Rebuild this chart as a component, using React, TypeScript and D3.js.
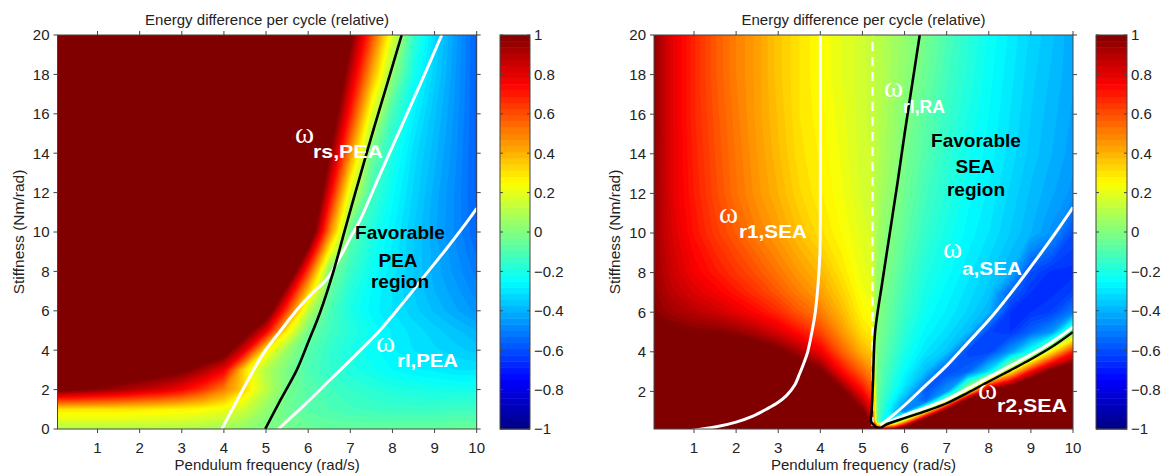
import React, { useMemo } from "react"
import * as d3 from "d3"

// ---------- values ----------
// left panel: PEA vs rigid actuator, rows go from stiffness 0 upward
const leftFreq = [0, 0.5, 1, 1.5, 2, 2.5, 3, 3.5, 4, 4.5, 5, 5.5, 6, 6.5, 7, 7.5, 8, 8.5, 9, 9.5, 10]
const leftStiff = [0, 1, 2, 3, 4, 5, 6, 7, 8, 9, 10, 12, 14, 16, 18, 20]
const leftEnergy = [
    [0.1, 0.1, 0.1, 0.1, 0.1, 0.1, 0.09, 0.08, 0.06, 0.03, 0.0, -0.02, -0.04, -0.05, -0.05, -0.05, -0.05, -0.05, -0.05, -0.04, -0.04],
    [0.3, 0.3, 0.3, 0.3, 0.29, 0.28, 0.27, 0.25, 0.22, 0.15, 0.04, -0.04, -0.08, -0.1, -0.12, -0.13, -0.14, -0.14, -0.14, -0.13, -0.13],
    [1.05, 1.01, 0.97, 0.93, 0.88, 0.83, 0.76, 0.65, 0.5, 0.32, 0.12, -0.02, -0.08, -0.12, -0.15, -0.17, -0.19, -0.2, -0.21, -0.21, -0.21],
    [1.3, 1.25, 1.2, 1.15, 1.12, 1.08, 1.03, 0.92, 0.78, 0.3, 0.1, -0.01, -0.1, -0.15, -0.19, -0.22, -0.25, -0.27, -0.28, -0.3, -0.3],
    [1.5, 1.5, 1.5, 1.45, 1.4, 1.35, 1.3, 1.2, 1.1, 0.8, 0.28, 0.05, -0.08, -0.15, -0.2, -0.24, -0.27, -0.3, -0.32, -0.34, -0.36],
    [1.5, 1.5, 1.5, 1.5, 1.5, 1.5, 1.5, 1.5, 1.5, 1.1, 0.8, 0.28, -0.02, -0.12, -0.18, -0.23, -0.28, -0.31, -0.34, -0.37, -0.4],
    [1.5, 1.5, 1.5, 1.5, 1.5, 1.5, 1.5, 1.5, 1.5, 1.5, 1.15, 0.62, 0.12, -0.1, -0.2, -0.26, -0.3, -0.34, -0.38, -0.42, -0.46],
    [1.5, 1.5, 1.5, 1.5, 1.5, 1.5, 1.5, 1.5, 1.5, 1.5, 1.45, 0.91, 0.36, -0.05, -0.18, -0.25, -0.3, -0.35, -0.4, -0.44, -0.49],
    [1.5, 1.5, 1.5, 1.5, 1.5, 1.5, 1.5, 1.5, 1.5, 1.5, 1.5, 1.25, 0.63, 0.0, -0.14, -0.23, -0.29, -0.35, -0.41, -0.46, -0.51],
    [1.5, 1.5, 1.5, 1.5, 1.5, 1.5, 1.5, 1.5, 1.5, 1.5, 1.5, 1.5, 0.93, 0.25, -0.1, -0.21, -0.28, -0.35, -0.41, -0.47, -0.53],
    [1.5, 1.5, 1.5, 1.5, 1.5, 1.5, 1.5, 1.5, 1.5, 1.5, 1.5, 1.5, 1.23, 0.51, -0.06, -0.19, -0.27, -0.35, -0.42, -0.48, -0.55],
    [1.5, 1.5, 1.5, 1.5, 1.5, 1.5, 1.5, 1.5, 1.5, 1.5, 1.5, 1.5, 1.42, 0.8, 0.19, -0.12, -0.24, -0.33, -0.41, -0.48, -0.56],
    [1.5, 1.5, 1.5, 1.5, 1.5, 1.5, 1.5, 1.5, 1.5, 1.5, 1.5, 1.5, 1.5, 1.02, 0.47, -0.02, -0.2, -0.31, -0.39, -0.47, -0.56],
    [1.5, 1.5, 1.5, 1.5, 1.5, 1.5, 1.5, 1.5, 1.5, 1.5, 1.5, 1.5, 1.5, 1.2, 0.7, 0.2, -0.12, -0.27, -0.37, -0.46, -0.56],
    [1.5, 1.5, 1.5, 1.5, 1.5, 1.5, 1.5, 1.5, 1.5, 1.5, 1.5, 1.5, 1.5, 1.34, 0.88, 0.43, 0.03, -0.21, -0.34, -0.45, -0.56],
    [1.5, 1.5, 1.5, 1.5, 1.5, 1.5, 1.5, 1.5, 1.5, 1.5, 1.5, 1.5, 1.5, 1.47, 1.04, 0.62, 0.19, -0.15, -0.32, -0.44, -0.56],
]

// right panel: SEA vs rigid actuator
const rightFreq = [0, 0.25, 0.5, 1, 1.5, 2, 2.5, 3, 3.5, 4, 4.5, 5, 5.2, 5.35, 5.5, 5.75, 6, 6.5, 7, 7.5, 8, 8.5, 9, 9.5, 10]
const rightStiff = [0, 0.5, 1, 1.5, 2, 3, 4, 5, 6, 7, 8, 10, 12, 14, 16, 18, 20]
const rightEnergy = [
    [1.5, 1.5, 1.5, 1.5, 1.5, 1.5, 1.5, 1.5, 1.5, 1.5, 1.5, 1.3, 1.2, 1.0, 1.1, 1.3, 1.5, 1.5, 1.5, 1.5, 1.5, 1.5, 1.5, 1.5, 1.5],
    [1.5, 1.5, 1.5, 1.5, 1.5, 1.5, 1.5, 1.5, 1.5, 1.5, 1.4, 1.15, 0.95, -0.05, -0.25, -0.25, 0.3, 1.3, 1.5, 1.5, 1.5, 1.5, 1.5, 1.5, 1.5],
    [1.5, 1.5, 1.5, 1.5, 1.5, 1.5, 1.5, 1.5, 1.5, 1.5, 1.3, 1.02, 0.82, -0.06, -0.18, -0.35, -0.5, 0.2, 1.2, 1.5, 1.5, 1.5, 1.5, 1.5, 1.5],
    [1.5, 1.5, 1.5, 1.5, 1.5, 1.5, 1.5, 1.5, 1.5, 1.4, 1.15, 0.88, 0.72, -0.05, -0.15, -0.28, -0.42, -0.55, 0.15, 1.25, 1.5, 1.5, 1.5, 1.5, 1.5],
    [1.5, 1.5, 1.5, 1.5, 1.5, 1.5, 1.5, 1.5, 1.5, 1.3, 1.04, 0.75, 0.62, -0.04, -0.12, -0.22, -0.32, -0.58, -0.45, 0.2, 1.1, 1.3, 1.5, 1.5, 1.5],
    [1.5, 1.5, 1.5, 1.5, 1.5, 1.5, 1.4, 1.3, 1.12, 1.03, 0.75, 0.55, 0.48, -0.03, -0.09, -0.17, -0.25, -0.38, -0.6, -0.55, -0.3, 0.25, 0.75, 1.1, 1.2],
    [1.4, 1.38, 1.35, 1.25, 1.22, 1.18, 1.12, 1.04, 0.92, 0.78, 0.57, 0.4, 0.36, -0.01, -0.06, -0.13, -0.2, -0.3, -0.36, -0.62, -0.62, -0.45, -0.2, 0.3, 0.7],
    [1.08, 1.05, 1.03, 1.0, 0.99, 0.96, 0.9, 0.82, 0.72, 0.62, 0.46, 0.31, 0.28, 0.0, -0.04, -0.1, -0.17, -0.26, -0.31, -0.38, -0.62, -0.65, -0.55, -0.45, 0.0],
    [1.0, 0.96, 0.93, 0.89, 0.85, 0.8, 0.74, 0.67, 0.58, 0.51, 0.39, 0.26, 0.24, 0.02, -0.02, -0.08, -0.14, -0.23, -0.28, -0.33, -0.4, -0.65, -0.65, -0.62, -0.5],
    [0.98, 0.92, 0.88, 0.82, 0.77, 0.71, 0.65, 0.58, 0.5, 0.44, 0.34, 0.23, 0.21, 0.04, -0.01, -0.06, -0.12, -0.21, -0.26, -0.31, -0.36, -0.55, -0.65, -0.66, -0.62],
    [0.97, 0.9, 0.85, 0.77, 0.71, 0.65, 0.59, 0.52, 0.45, 0.39, 0.3, 0.21, 0.19, 0.05, 0.01, -0.04, -0.1, -0.19, -0.24, -0.29, -0.34, -0.4, -0.6, -0.66, -0.66],
    [0.97, 0.88, 0.82, 0.72, 0.64, 0.57, 0.5, 0.44, 0.37, 0.31, 0.25, 0.19, 0.17, 0.08, 0.03, -0.01, -0.06, -0.15, -0.21, -0.26, -0.3, -0.35, -0.4, -0.46, -0.6],
    [0.98, 0.88, 0.8, 0.7, 0.61, 0.53, 0.46, 0.4, 0.33, 0.28, 0.23, 0.17, 0.15, 0.1, 0.06, 0.02, -0.03, -0.12, -0.18, -0.24, -0.28, -0.33, -0.38, -0.42, -0.46],
    [0.99, 0.88, 0.8, 0.69, 0.6, 0.52, 0.45, 0.38, 0.31, 0.27, 0.22, 0.16, 0.15, 0.11, 0.08, 0.04, -0.01, -0.09, -0.16, -0.22, -0.26, -0.31, -0.36, -0.4, -0.44],
    [1.0, 0.88, 0.8, 0.68, 0.59, 0.51, 0.44, 0.37, 0.3, 0.26, 0.21, 0.16, 0.14, 0.12, 0.09, 0.05, 0.01, -0.07, -0.14, -0.2, -0.25, -0.3, -0.35, -0.39, -0.43],
    [1.0, 0.88, 0.8, 0.68, 0.58, 0.5, 0.44, 0.36, 0.3, 0.25, 0.2, 0.16, 0.14, 0.12, 0.1, 0.06, 0.03, -0.04, -0.12, -0.18, -0.24, -0.29, -0.34, -0.38, -0.42],
    [1.0, 0.88, 0.8, 0.68, 0.58, 0.5, 0.44, 0.36, 0.3, 0.25, 0.2, 0.16, 0.13, 0.12, 0.1, 0.07, 0.04, -0.02, -0.1, -0.17, -0.23, -0.28, -0.33, -0.37, -0.42],
]

// boundary curves [frequency, stiffness]
const leftOmegaRsBlack = [[4.98, 0], [5.35, 1.5], [5.73, 3], [6.0, 4.4], [6.28, 5.9], [6.6, 8], [6.87, 10.1], [7.2, 12.6], [7.55, 15.2], [7.9, 17.7], [8.22, 20]]
const leftOmegaRsWhite = [[3.95, 0], [4.15, 0.8], [4.5, 2.2], [4.94, 3.84], [5.35, 5.0], [5.73, 6.04], [6.1, 6.9], [6.44, 7.6], [6.75, 8.7], [7.0, 9.7], [7.23, 10.6], [7.7, 12.9], [8.18, 15.2], [8.68, 17.6], [9.17, 20]]
const leftOmegaRl = [[5.29, 0], [5.9, 1.2], [6.52, 2.5], [7.1, 3.7], [7.7, 5.0], [8.25, 6.4], [8.81, 7.9], [9.3, 9.2], [9.8, 10.6], [10, 11.2]]

const rightOmegaR1 = [[0.85, 0], [1.5, 0.2], [2.0, 0.45], [2.4, 0.75], [2.72, 1.1], [3.0, 1.45], [3.2, 1.8], [3.4, 2.35], [3.5, 2.85], [3.62, 3.5], [3.7, 4.0], [3.8, 5.0], [3.88, 6.0], [3.95, 7.5], [3.99, 9], [4.0, 12], [4.0, 20]]
const rightResonance = [[5.24, 0.25], [5.24, 20]]
const rightOmegaRA = [[5.44, 0.15], [5.33, 0.2], [5.21, 0.46], [5.22, 1], [5.25, 2.5], [5.3, 5], [5.47, 7.5], [5.65, 10], [5.83, 12.5], [6.0, 15], [6.18, 17.5], [6.36, 20]]
const rightOmegaA = [[5.42, 0.3], [5.7, 0.75], [6.0, 1.3], [6.5, 2.3], [7.0, 3.3], [7.5, 4.45], [8.0, 5.6], [8.5, 6.9], [9.0, 8.3], [9.5, 9.75], [10, 11.3]]
const rightOmegaR2Edge = [[5.6, 0.42], [6.0, 0.8], [6.5, 1.18], [7.0, 1.6], [7.5, 2.14], [8.0, 2.72], [8.5, 3.28], [9.0, 3.86], [9.5, 4.5], [10, 5.26]]
const rightOmegaR2 = [[5.44, 0.15], [5.56, 0.32], [6.0, 0.65], [6.5, 1.0], [7.0, 1.4], [7.5, 1.93], [8.0, 2.5], [8.5, 3.05], [9.0, 3.62], [9.5, 4.25], [10, 5.0]]

const FONT = "'Liberation Sans', Arial, Helvetica, sans-serif"
const SERIF = "'Liberation Serif', 'DejaVu Serif', serif"
const TITLE = "Energy difference per cycle (relative)"

// MATLAB jet
const jet = d3
    .scaleLinear<string>()
    .domain([-1, -0.75, -0.25, 0.25, 0.75, 1])
    .range(["#000080", "#0000ff", "#00ffff", "#ffff00", "#ff0000", "#800000"])
    .clamp(true)

const levels = d3.range(81).map((i) => -1 + i * 0.025)

const panels = [
    {
        id: "pea",
        l: 57.5, r: 476.7, t: 35, b: 429,
        xDomain: [0.05, 10], yDomain: [0, 20],
        cbL: 500, cbR: 530, yLabelX: 24,
        freq: leftFreq, stiff: leftStiff, grid: leftEnergy,
        curves: [
            { pts: leftOmegaRsWhite, stroke: "#fff", width: 3 },
            { pts: leftOmegaRl, stroke: "#fff", width: 3 },
            { pts: leftOmegaRsBlack, stroke: "#000", width: 2.6 },
        ],
        notes: [
            { x: 295, y: 143, text: "ω", size: 29, fill: "#fff", serif: true },
            { x: 313, y: 158, text: "rs,PEA", size: 19, bold: true, fill: "#fff", len: 70 },
            { x: 376, y: 352, text: "ω", size: 29, fill: "#fff", serif: true },
            { x: 397, y: 367, text: "rl,PEA", size: 19, bold: true, fill: "#fff", len: 61 },
            { x: 400, y: 239, text: "Favorable", size: 19, bold: true, fill: "#000", anchor: "middle" },
            { x: 398, y: 267, text: "PEA", size: 19, bold: true, fill: "#000", anchor: "middle" },
            { x: 400, y: 288, text: "region", size: 19, bold: true, fill: "#000", anchor: "middle" },
        ],
    },
    {
        id: "sea",
        l: 654, r: 1073, t: 35, b: 429,
        xDomain: [0.05, 10], yDomain: [0.1, 20],
        cbL: 1096, cbR: 1127, yLabelX: 620,
        freq: rightFreq, stiff: rightStiff, grid: rightEnergy,
        curves: [
            { pts: rightOmegaR1, stroke: "#fff", width: 3 },
            { pts: rightResonance, stroke: "#fff", width: 2.2, dash: "9,6" },
            { pts: rightOmegaA, stroke: "#fff", width: 3 },
            { pts: rightOmegaR2Edge, stroke: "#fff", width: 3 },
            { pts: rightOmegaR2, stroke: "#000", width: 2.4 },
            { pts: rightOmegaRA, stroke: "#000", width: 2.6 },
        ],
        notes: [
            { x: 719, y: 223, text: "ω", size: 29, fill: "#fff", serif: true },
            { x: 739, y: 238, text: "r1,SEA", size: 19, bold: true, fill: "#fff", len: 68 },
            { x: 884, y: 97, text: "ω", size: 29, fill: "#fff", serif: true },
            { x: 903, y: 113, text: "rl,RA", size: 19, bold: true, fill: "#fff", len: 42 },
            { x: 976, y: 147, text: "Favorable", size: 19, bold: true, fill: "#000", anchor: "middle" },
            { x: 975, y: 173, text: "SEA", size: 19, bold: true, fill: "#000", anchor: "middle" },
            { x: 976, y: 196, text: "region", size: 19, bold: true, fill: "#000", anchor: "middle" },
            { x: 943, y: 258, text: "ω", size: 29, fill: "#fff", serif: true },
            { x: 962, y: 275, text: "a,SEA", size: 19, bold: true, fill: "#fff", len: 60 },
            { x: 978, y: 399, text: "ω", size: 29, fill: "#fff", serif: true },
            { x: 997, y: 412, text: "r2,SEA", size: 19, bold: true, fill: "#fff", len: 70 },
        ],
    },
]

function Panel({ p }) {
    const x = d3.scaleLinear().domain(p.xDomain).range([p.l, p.r])
    const y = d3.scaleLinear().domain(p.yDomain).range([p.b, p.t])
    const cb = d3.scaleLinear().domain([-1, 1]).range([p.b, p.t])

    const bands = useMemo(() => {
        const nx = p.freq.length
        const ny = p.stiff.length
        // grid index -> data value (rows are not evenly spaced)
        const gx = d3.scaleLinear().domain(d3.range(nx)).range(p.freq).clamp(true)
        const gy = d3.scaleLinear().domain(d3.range(ny)).range(p.stiff).clamp(true)
        const proj = d3.geoTransform({
            point(px, py) {
                this.stream.point(x(gx(px - 0.5)), y(gy(py - 0.5)))
            },
        })
        const path = d3.geoPath(proj)
        const contours = d3.contours().size([nx, ny]).thresholds(levels)(p.grid.flat())
        return contours.map((c) => ({
            d: path(c),
            fill: c.value >= 0.9999 ? jet(1) : jet(c.value + 0.0125),
        }))
    }, [p])

    const line = d3
        .line()
        .x((d) => x(d[0]))
        .y((d) => y(d[1]))
        .curve(d3.curveCatmullRom.alpha(0.5))

    const fmt = d3.format("~g")
    const cbSteps = d3.range(64)
    const cx = (p.l + p.r) / 2
    const axisCol = "#444"

    return (
        <g fontFamily={FONT}>
            <defs>
                <clipPath id={"clip-" + p.id}>
                    <rect x={p.l} y={p.t} width={p.r - p.l} height={p.b - p.t} />
                </clipPath>
            </defs>
            <g clipPath={"url(#clip-" + p.id + ")"}>
                {bands.map((c, i) => (
                    <path key={i} d={c.d} fill={c.fill} />
                ))}
                {p.curves.map((c, i) => (
                    <path
                        key={"c" + i}
                        d={line(c.pts)}
                        fill="none"
                        stroke={c.stroke}
                        strokeWidth={c.width}
                        strokeDasharray={c.dash}
                        strokeLinejoin="round"
                    />
                ))}
            </g>
            {p.notes.map((n, i) => (
                <text
                    key={"n" + i}
                    x={n.x}
                    y={n.y}
                    fontSize={n.size}
                    fontFamily={n.serif ? SERIF : FONT}
                    fontWeight={n.bold ? "bold" : "normal"}
                    fill={n.fill}
                    textAnchor={n.anchor || "start"}
                    textLength={n.len}
                    lengthAdjust={n.len ? "spacingAndGlyphs" : undefined}
                >
                    {n.text}
                </text>
            ))}

            {/* axes box + outward ticks */}
            <rect x={p.l} y={p.t} width={p.r - p.l} height={p.b - p.t} fill="none" stroke={axisCol} strokeWidth={1} />
            {x.ticks(10).map((v) => (
                <g key={"xt" + v}>
                    <line x1={x(v)} x2={x(v)} y1={p.b} y2={p.b + 4} stroke={axisCol} />
                    <line x1={x(v)} x2={x(v)} y1={p.t - 4} y2={p.t} stroke={axisCol} />
                    <text x={x(v)} y={453} fontSize={15} textAnchor="middle" fill="#222">
                        {fmt(v)}
                    </text>
                </g>
            ))}
            {y.ticks(10).map((v) => (
                <g key={"yt" + v}>
                    <line x1={p.l - 4} x2={p.l} y1={y(v)} y2={y(v)} stroke={axisCol} />
                    <line x1={p.r} x2={p.r + 4} y1={y(v)} y2={y(v)} stroke={axisCol} />
                    <text x={p.l - 8} y={y(v)} dy="0.36em" fontSize={15} textAnchor="end" fill="#222">
                        {fmt(v)}
                    </text>
                </g>
            ))}
            <text x={cx} y={25} fontSize={15} textAnchor="middle" fill="#222">
                {TITLE}
            </text>
            <text x={cx} y={470} fontSize={15} textAnchor="middle" fill="#222">
                Pendulum frequency (rad/s)
            </text>
            <text
                transform={"translate(" + p.yLabelX + "," + (p.t + p.b) / 2 + ") rotate(-90)"}
                fontSize={15.5}
                textAnchor="middle"
                fill="#222"
            >
                Stiffness (Nm/rad)
            </text>

            {/* colorbar */}
            {cbSteps.map((i) => {
                const v0 = -1 + (i * 2) / 64
                const v1 = -1 + ((i + 1) * 2) / 64
                return (
                    <rect
                        key={"cb" + i}
                        x={p.cbL}
                        y={cb(v1)}
                        width={p.cbR - p.cbL}
                        height={cb(v0) - cb(v1) + 0.5}
                        fill={jet((v0 + v1) / 2)}
                    />
                )
            })}
            <rect x={p.cbL} y={p.t} width={p.cbR - p.cbL} height={p.b - p.t} fill="none" stroke={axisCol} />
            {cb.ticks(10).map((v) => (
                <g key={"cbt" + v}>
                    <line x1={p.cbL} x2={p.cbL + 3} y1={cb(v)} y2={cb(v)} stroke={axisCol} />
                    <line x1={p.cbR - 3} x2={p.cbR} y1={cb(v)} y2={cb(v)} stroke={axisCol} />
                    <text x={p.cbR + 4} y={cb(v)} dy="0.36em" fontSize={15} fill="#222">
                        {fmt(v)}
                    </text>
                </g>
            ))}
        </g>
    )
}

export default function App() {
    return (
        <svg
            width={1167}
            height={476}
            style={{ position: "absolute", left: 0, top: 0, background: "#fff" }}
        >
            <rect width={1167} height={476} fill="#fff" />
            {panels.map((p) => (
                <Panel key={p.id} p={p} />
            ))}
        </svg>
    )
}
